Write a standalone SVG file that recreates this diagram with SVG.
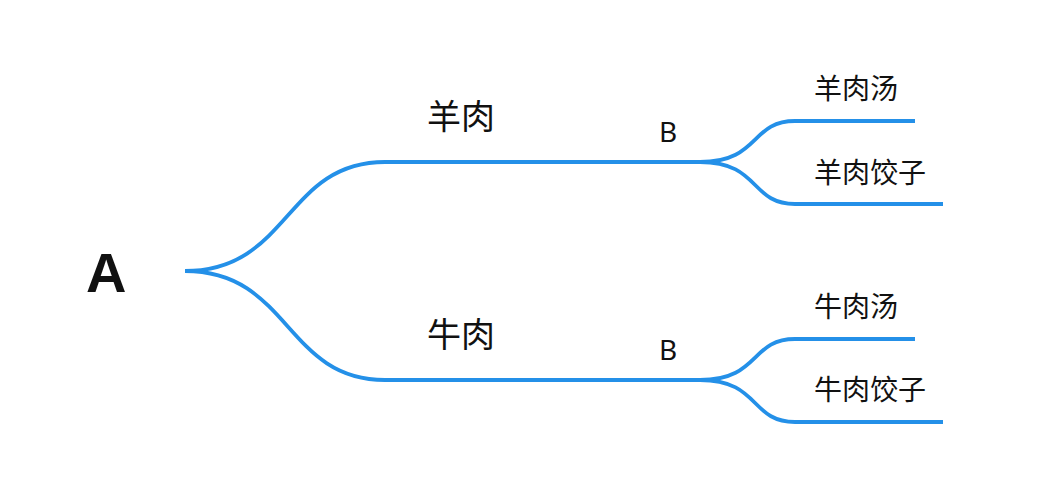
<svg xmlns="http://www.w3.org/2000/svg" width="1059" height="495" viewBox="0 0 1059 495">
<style>
.l{fill:none;stroke:#2490e8;stroke-width:3.8;stroke-linecap:butt}
.t{font-family:"Noto Sans","Noto Sans CJK SC",sans-serif;fill:#111}
.root{font-family:"Liberation Sans",sans-serif;font-size:56px;font-weight:bold}
.m{font-size:34px}
.b{font-size:28px}
.s{font-size:28px}
</style>
<rect width="1059" height="495" fill="#fff"/>
<g id="connectors">
<path class="l" d="M185,271 C290,271 285,162 385,162 L700,162"/>
<path class="l" d="M185,271 C290,271 285,380 385,380 L700,380"/>
<path class="l" d="M700,162 C760,162 750,121 795,121 L915,121"/>
<path class="l" d="M700,162 C760,162 750,204 795,204 L943,204"/>
<path class="l" d="M700,380 C760,380 750,339 795,339 L915,339"/>
<path class="l" d="M700,380 C760,380 750,422 795,422 L943,422"/>
</g>
<g id="nA"><text class="t root" x="86" y="292">A</text></g>
<g id="n1"><text class="t m" x="427" y="129">羊肉</text></g>
<g id="n1b"><text class="t b" x="659" y="142">B</text></g>
<g id="n11"><text class="t s" x="814" y="99">羊肉汤</text></g>
<g id="n12"><text class="t s" x="814" y="183">羊肉饺子</text></g>
<g id="n2"><text class="t m" x="427" y="347">牛肉</text></g>
<g id="n2b"><text class="t b" x="659" y="360">B</text></g>
<g id="n21"><text class="t s" x="814" y="317">牛肉汤</text></g>
<g id="n22"><text class="t s" x="814" y="400">牛肉饺子</text></g>
</svg>
